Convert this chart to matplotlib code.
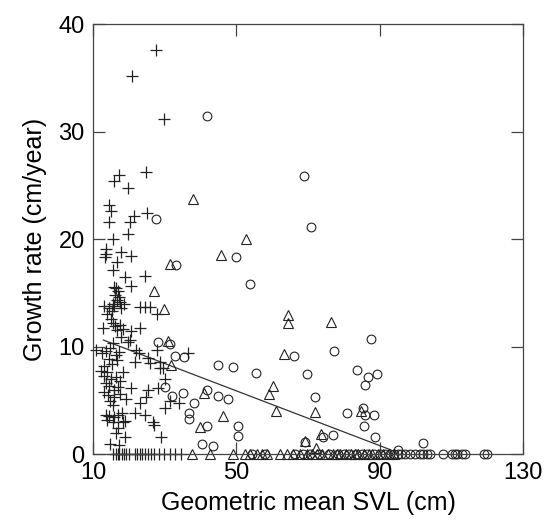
import numpy as np
import matplotlib.pyplot as plt

plt.rcParams['font.family'] = ['Liberation Sans', 'DejaVu Sans']

# plus markers (small SVL group)
plus_x = [27.5, 21.0, 29.8, 24.9, 17.4, 15.9, 19.8, 14.4, 15.1, 25.2, 21.4, 14.4, 20.2, 19.8,
          15.6, 13.7, 13.3, 13.6, 17.9, 20.7, 16.8, 15.6, 18.8, 24.4, 20.7,
          16.0, 16.5, 17.0, 16.2, 17.2, 16.6, 17.5, 15.5, 16.0, 13.0, 14.5, 15.2, 18.6, 17.8,
          14.0, 15.0, 23.0, 24.4, 25.8, 28.0,
          12.8, 15.6, 16.2, 16.8, 17.5, 18.5, 20.7, 23.0, 17.9, 20.2, 19.8, 10.9, 12.5, 13.5,
          14.8, 15.5, 16.3, 17.2, 22.1, 14.5, 15.3, 16.8, 13.2, 21.6, 25.4, 28.6, 29.5, 27.9,
          22.9, 36.6, 26.0,
          12.2, 13.0, 14.0, 15.0, 16.3, 17.5, 18.3, 13.5, 14.6, 15.8, 17.0, 13.0, 14.2, 16.0,
          17.5, 14.8, 15.5, 19.2, 20.7, 25.4, 28.1, 24.9, 23.0, 30.0, 31.4, 34.1, 30.2, 28.8,
          13.5, 14.5, 16.0, 17.0, 18.0, 13.8, 15.5, 18.4, 19.0, 21.6, 24.4, 26.7, 26.9, 17.0,
          16.5, 18.8, 29.1, 17.4, 14.7,
          15.6, 16.3, 16.9, 17.4, 18.0, 18.6, 19.2, 20.0, 21.7, 22.2, 23.0, 23.6, 24.4, 25.3,
          26.2, 27.0, 28.5, 29.8, 31.5, 33.0, 34.5]
plus_y = [37.6, 35.2, 31.2, 26.2, 26.0, 25.4, 24.7, 23.2, 22.6, 22.4, 22.1, 21.6, 21.6, 20.5,
          20.0, 19.1, 18.3, 18.6, 18.8, 18.4, 17.9, 17.1, 16.5, 16.6, 15.6,
          15.5, 15.4, 15.2, 14.8, 14.6, 14.3, 14.1, 14.0, 13.8, 13.8, 13.6, 13.3, 14.0, 13.6,
          13.0, 12.6, 13.7, 13.7, 13.7, 13.0,
          11.7, 12.2, 11.9, 11.5, 12.0, 11.6, 11.4, 11.7, 10.9, 10.6, 10.4, 9.7, 9.4, 9.6,
          9.9, 10.3, 9.2, 9.5, 9.7, 8.8, 8.4, 8.7, 8.2, 8.6, 8.9, 8.6, 8.0, 9.7,
          9.4, 9.4, 8.5,
          7.7, 7.3, 7.6, 7.0, 7.2, 6.8, 7.6, 6.6, 6.3, 6.0, 6.2, 5.8, 5.5, 5.3,
          5.6, 4.9, 4.6, 5.1, 6.1, 6.0, 6.1, 5.3, 4.7, 4.3, 4.9, 4.7, 7.0, 8.0,
          3.6, 3.5, 3.4, 3.6, 3.8, 3.2, 3.0, 3.0, 3.1, 3.8, 3.6, 3.0, 2.7, 2.4,
          2.0, 1.6, 1.6, 0.8, 0.9,
          0, 0, 0, 0, 0, 0, 0, 0, 0, 0, 0, 0, 0, 0,
          0, 0, 0, 0, 0, 0, 0]

# circle markers
circ_x = [41.7, 68.8, 70.9, 27.6, 50.0, 33.1, 53.7, 87.5, 28.1, 31.5, 77.3, 32.9, 66.0, 35.3,
          45.0, 49.0, 55.4, 69.6, 83.7, 89.2, 86.8, 85.9, 30.2, 41.8, 71.9, 45.0, 32.1, 35.0,
          47.6, 38.1, 85.4, 85.8, 80.9, 88.4, 36.8, 36.8, 41.7, 50.6, 85.7, 50.6, 77.1, 74.2,
          88.7, 69.3, 40.4, 43.5, 102.0, 95.0,
          54.5, 58.0, 66.5, 68.5, 70.5, 73.0, 76.0, 78.5, 80.0, 81.5, 83.5, 85.0, 86.5, 88.5,
          90.0, 91.5, 93.0, 94.0, 95.0, 96.0, 97.0, 98.5, 99.9, 101.3, 102.1, 103.1, 104.0,
          107.8, 110.1, 111.0, 111.7, 112.9, 113.8, 119.0, 119.9]
circ_y = [31.4, 25.9, 21.1, 21.9, 18.3, 17.6, 15.8, 10.7, 10.4, 10.2, 9.6, 9.1, 9.1, 9.0,
          8.3, 8.1, 7.5, 7.4, 7.8, 7.4, 7.2, 6.4, 6.2, 6.0, 5.3, 5.4, 5.4, 5.7,
          5.1, 4.7, 4.3, 3.6, 3.8, 3.6, 3.8, 3.3, 2.6, 2.6, 2.6, 1.7, 1.8, 1.6,
          1.6, 1.1, 0.9, 0.7, 1.0, 0.4,
          0, 0, 0, 0, 0, 0, 0, 0, 0, 0, 0, 0, 0, 0,
          0, 0, 0, 0, 0, 0, 0, 0, 0, 0, 0, 0, 0,
          0, 0, 0, 0, 0, 0, 0, 0]

# triangle markers
tri_x = [37.9, 52.7, 45.6, 31.6, 27.1, 29.7, 64.5, 64.3, 76.3, 31.0, 63.4, 31.9, 60.1, 59.1,
         41.1, 46.2, 61.1, 71.9, 84.7, 39.8, 73.6, 69.2, 72.2,
         37.5, 42.7, 49.2, 52.4, 53.8, 55.7, 57.1, 58.6, 62.2, 64.1, 65.9, 67.8, 69.6, 71.0,
         72.5, 74.0, 75.5, 77.0, 78.0, 79.0, 80.5, 82.0, 83.0, 84.0, 85.5, 87.0, 88.0, 89.5,
         91.0, 92.5, 94.0]
tri_y = [23.7, 20.0, 18.5, 17.7, 15.2, 13.5, 12.9, 12.2, 12.3, 10.5, 9.3, 8.3, 6.3, 5.6,
         5.7, 3.5, 4.0, 3.9, 4.0, 2.5, 1.9, 1.2, 0.6,
         0, 0, 0, 0, 0, 0, 0, 0, 0, 0, 0, 0, 0, 0,
         0, 0, 0, 0, 0, 0, 0, 0, 0, 0, 0, 0, 0, 0,
         0, 0, 0]

# fitted line end points
fit_x = [12.9, 93.0]
fit_y = [10.6, 0.4]

col = '#222222'
fig = plt.figure(figsize=(5.45, 5.2), dpi=100)
ax = fig.add_axes([0.1706, 0.1269, 0.789, 0.8269])

ax.plot(fit_x, fit_y, '-', color='#333333', lw=0.9)
ax.plot(plus_x, plus_y, ls='none', marker='+', ms=8.5, mew=0.9, color=col, clip_on=False)
ax.plot(circ_x, circ_y, ls='none', marker='o', ms=6.3, mew=0.8, mfc='none', mec=col, clip_on=False)
ax.plot(tri_x, tri_y, ls='none', marker='^', ms=7.2, mew=0.8, mfc='none', mec=col, clip_on=False)

ax.set_xlim(10, 130)
ax.set_ylim(0, 40)
ax.set_xticks([10, 50, 90, 130])
ax.set_yticks([0, 10, 20, 30, 40])
ax.tick_params(direction='in', length=8.5, width=0.9, color='#444444',
               top=True, right=True, labelsize=17, pad=6)
for s in ax.spines.values():
    s.set_color('#444444')
    s.set_linewidth(0.9)

ax.set_xlabel('Geometric mean SVL (cm)', fontsize=18, labelpad=5)
ax.set_ylabel('Growth rate (cm/year)', fontsize=18, labelpad=8)

plt.savefig('out.png', dpi=100)
